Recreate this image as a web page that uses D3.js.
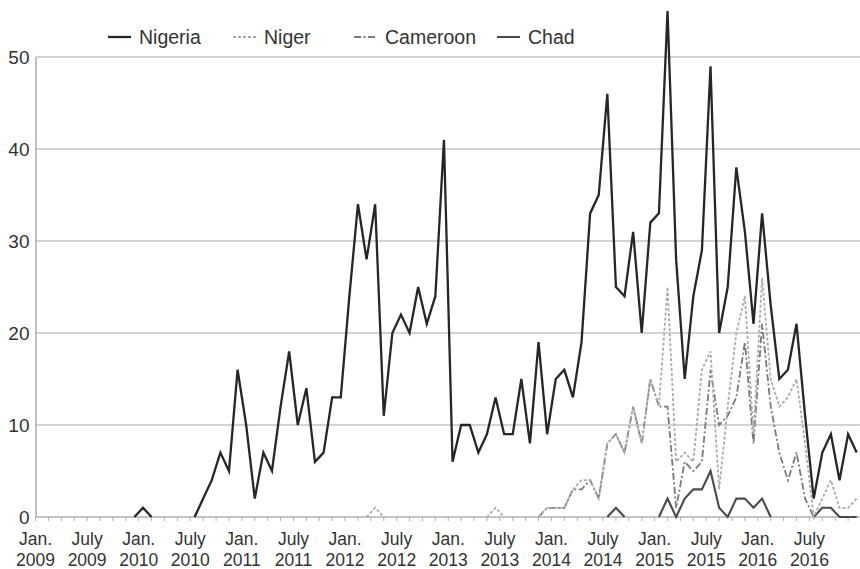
<!DOCTYPE html>
<html><head><meta charset="utf-8">
<script src="https://cdn.jsdelivr.net/npm/d3@7"></script>
<style>body{margin:0;background:#fff}svg{display:block;font-family:"Liberation Sans",Arial,sans-serif}</style>
</head><body><div id="chart"></div>
<script>
const _ = null;
// monthly categories Jan 2009 .. Dec 2016
const months = d3.timeMonths(new Date(2009,0,1), new Date(2017,0,1));
const seriesNames = ["Nigeria","Niger","Cameroon","Chad"];
const nigeria = [_,_,_,_,_,_,_,_,_,_,_,0, 1,0,_,_,_,_,0,2,4,7,5,16, 10,2,7,5,12,18,10,14,6,7,13,13,
 24,34,28,34,11,20,22,20,25,21,24,41, 6,10,10,7,9,13,9,9,15,8,19,9,
 15,16,13,19,33,35,46,25,24,31,20,32, 33,55,28,15,24,29,49,20,25,38,31,21,
 33,23,15,16,21,11,2,7,9,4,9,7];
const niger = [_,_,_,_,_,_,_,_,_,_,_,_, _,_,_,_,_,_,_,_,_,_,_,_, _,_,_,_,_,_,_,_,_,_,_,_,
 _,_,0,1,0,_,_,_,_,_,_,_, _,_,_,_,0,1,0,_,_,_,0,1,
 1,1,3,4,4,2,8,9,7,12,8,15, 12,25,6,7,6,16,18,3,12,20,24,9,
 26,15,12,13,15,8,0,2,4,1,1,2];
const cameroon = [_,_,_,_,_,_,_,_,_,_,_,_, _,_,_,_,_,_,_,_,_,_,_,_, _,_,_,_,_,_,_,_,_,_,_,_,
 _,_,_,_,_,_,_,_,_,_,_,_, _,_,_,_,_,_,_,_,_,_,0,1,
 1,1,3,3,4,2,8,9,7,12,8,15, 12,12,1,6,5,6,16,10,11,13,19,8,
 21,12,7,4,7,2,0,_,_,_,_,_];
const chad = [_,_,_,_,_,_,_,_,_,_,_,_, _,_,_,_,_,_,_,_,_,_,_,_, _,_,_,_,_,_,_,_,_,_,_,_,
 _,_,_,_,_,_,_,_,_,_,_,_, _,_,_,_,_,_,_,_,_,_,_,_,
 _,_,_,_,_,_,0,1,0,_,_,_, 0,2,0,2,3,3,5,1,0,2,2,1,
 2,0,_,_,_,_,0,1,1,0,0,0];
const yTicks = [0,10,20,30,40,50];
const tickLabelMonths = [0,6]; // Jan. and July

const W = 860, H = 569;
const svg = d3.select("#chart").append("svg").attr("width",W).attr("height",H);

const x = d3.scaleBand().domain(months.map(d=>+d)).range([35.5, 861]).paddingInner(0).paddingOuter(0);
const xc = d => x(+d) + x.bandwidth()/2;
const y = d3.scaleLinear().domain([0,50]).range([517,57]);
const tickScale = d3.scaleLinear().domain([0, months.length]).range(x.range());

// gridlines
svg.append("g").selectAll("line").data(yTicks.filter(t=>t>0)).join("line")
  .attr("x1",35.5).attr("x2",W).attr("y1",d=>y(d)).attr("y2",d=>y(d))
  .attr("stroke","#c4c4c4").attr("stroke-width",1.6);

// y axis
const yAxis = d3.axisLeft(y).tickValues(yTicks).tickSize(0).tickPadding(6).tickFormat(d3.format("d"));
const gy = svg.append("g").attr("transform","translate(35.5,0)").call(yAxis);
gy.select(".domain").attr("stroke","#b0b0b0").attr("stroke-width",1.6);
gy.selectAll("text").attr("font-size",19).attr("fill","#333").attr("font-family","Liberation Sans, Arial, sans-serif");

// x axis line + minor ticks
const tickVals = d3.range(0, months.length + 0.01, 1.5);
svg.append("line").attr("x1",35.5).attr("x2",W).attr("y1",y(0)).attr("y2",y(0))
  .attr("stroke","#b0b0b0").attr("stroke-width",1.6);
svg.append("g").selectAll("line").data(tickVals).join("line")
  .attr("x1",d=>tickScale(d)).attr("x2",d=>tickScale(d)).attr("y1",y(0)).attr("y2",y(0)+4)
  .attr("stroke","#b0b0b0").attr("stroke-width",1);

// x labels
const labMonths = months.filter(d=>tickLabelMonths.includes(d.getMonth()));
const lab = svg.append("g").selectAll("text").data(labMonths).join("text")
  .attr("text-anchor","middle").attr("font-size",17.5).attr("fill","#333")
  .attr("transform",d=>`translate(${x(+d)},0)`);
lab.append("tspan").attr("x",0).attr("y",545).text(d=>d.getMonth()===0?"Jan.":"July");
lab.append("tspan").attr("x",0).attr("y",566).text(d=>d.getFullYear());

// lines
const styles = [
  {data:nigeria, color:"#262626", width:2.3, dash:null},
  {data:niger, color:"#ababab", width:1.8, dash:"3,2"},
  {data:cameroon, color:"#7a7a7a", width:1.8, dash:"7,2.5,2,2.5"},
  {data:chad, color:"#4a4a4a", width:2.1, dash:null}
];
const line = d3.line().defined(d=>d.v!=null).x(d=>xc(d.m)).y(d=>y(d.v));
[3,2,1,0].forEach(k=>{
  const s = styles[k];
  const pts = months.map((m,i)=>({m, v:s.data[i]}));
  svg.append("path").datum(pts).attr("d",line).attr("fill","none")
    .attr("stroke",s.color).attr("stroke-width",s.width)
    .attr("stroke-dasharray",s.dash).attr("stroke-linejoin","miter");
});

// legend
const legX = [108, 233, 354, 497];
const lg = svg.append("g").selectAll("g").data(seriesNames).join("g")
  .attr("transform",(d,i)=>`translate(${legX[i]},37)`);
lg.append("line").attr("x1",0).attr("x2",23).attr("y1",0).attr("y2",0)
  .attr("stroke",(d,i)=>styles[i].color).attr("stroke-width",(d,i)=>styles[i].width)
  .attr("stroke-dasharray",(d,i)=>styles[i].dash);
lg.append("text").attr("x",31).attr("y",7).attr("font-size",19.5).attr("fill","#333").text(d=>d);
</script></body></html>
